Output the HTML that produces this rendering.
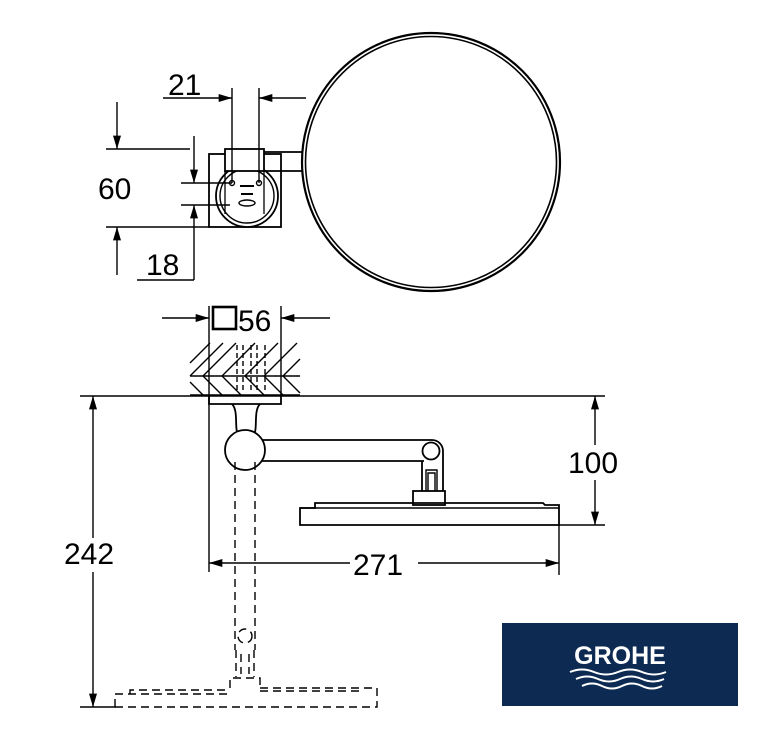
<!DOCTYPE html>
<html><head><style>body{margin:0;background:#fff}svg{display:block}text{font-family:"Liberation Sans",sans-serif;fill:#000}</style></head><body>
<svg width="782" height="749" viewBox="0 0 782 749" xmlns="http://www.w3.org/2000/svg">
<defs><marker id="a" viewBox="0 0 10 6" refX="10" refY="3" markerWidth="20" markerHeight="8" markerUnits="userSpaceOnUse" orient="auto"><path d="M0,0L10,3L0,6z" fill="#000"/></marker></defs>
<g stroke="#000" fill="none" stroke-width="1.4">
<circle cx="431" cy="162" r="129" stroke-width="2.2"/>
<circle cx="431" cy="162" r="125.5" stroke-width="1.6"/>
<rect x="209" y="154" width="72" height="73" stroke-width="1.8"/>
<circle cx="247" cy="196" r="31" stroke-width="1.8" fill="#fff"/>
<circle cx="247" cy="196" r="27" stroke-width="1.4"/>
<rect x="225" y="149" width="39" height="22" fill="#fff" stroke-width="1.8"/>
<path d="M264 152H302M264 171H302" stroke-width="1.8"/>
<path d="M225 171V214M264 171V214" stroke-width="1.3"/>
<circle cx="232" cy="183" r="2.5"/><circle cx="259" cy="183" r="2.5"/>
<ellipse cx="247" cy="203" rx="8" ry="3"/>
<path d="M240 186h14M241 194h12" stroke-width="2"/>
<path d="M232 88V183M259 88V183"/>
<path d="M163 98H232" marker-end="url(#a)"/><path d="M306 98H259" marker-end="url(#a)"/>
<path d="M106 149H190M106 227H209"/>
<path d="M117 102V149" marker-end="url(#a)"/><path d="M117 275V227" marker-end="url(#a)"/>
<path d="M181 183H232M181 205H230"/>
<path d="M194 136V183" marker-end="url(#a)"/><path d="M194 280V205" marker-end="url(#a)"/>
<path d="M137 280H194"/>
<path d="M80 396H605"/>
<path d="M209 306V572M281 306V396"/>
<path d="M162 318H209" marker-end="url(#a)"/><path d="M330 318H281" marker-end="url(#a)"/>
<rect x="213" y="307" width="23" height="22" stroke-width="2.6"/>
<path d="M190 376H300M190 395H300"/>
<path d="M190 363L210 343M190 376L223 343M203 376L236 343M222 376L255 343M245 376L278 343M264 376L297 343M283 376L300 359"/>
<path d="M190 382L203 395M203 376L222 395M222 376L241 395M264 376L283 395M283 376L300 393M245 376L264 395"/>
<path d="M237 345V392M243 345V392M251 345V392M257 345V392M265 345V392" stroke-dasharray="5 3"/>
<path d="M209 396V404H281V396" stroke-width="1.8"/>
<path d="M232 404C238 410 235 425 237 432M260 404C254 410 257 425 255 432" stroke-width="1.8"/>
<path d="M262 440H432M262 461H424" stroke-width="1.8"/>
<path d="M432 440A11 11 0 0 1 443 451V491M422 461V491" stroke-width="1.8"/>
<circle cx="245" cy="450" r="20" stroke-width="1.8" fill="#fff"/>
<circle cx="431" cy="451" r="8.5" stroke-width="1.8"/>
<path d="M426 491V470H437V491M428 491V473H435V491"/>
<rect x="413" y="491" width="32" height="14" stroke-width="1.8"/>
<path d="M300 525V508H315V503H543L545 505H559V525Z" stroke-width="1.8"/>
<path d="M300 508H559"/>
<path d="M559 525H605"/>
<path d="M595 445V396" marker-end="url(#a)"/><path d="M595 480V525" marker-end="url(#a)"/>
<path d="M559 525V575"/>
<path d="M350 563H209" marker-end="url(#a)"/><path d="M418 563H559" marker-end="url(#a)"/>
<path d="M93 538V396" marker-end="url(#a)"/><path d="M93 572V707" marker-end="url(#a)"/>
<path d="M80 707H116"/>
<g stroke-dasharray="8 5">
<path d="M235 462V650M255 462V650"/>
<circle cx="245" cy="636" r="7"/>
<path d="M236 650V677M254 650V677M241 654V674M249 654V674"/>
<path d="M230 688V678H260V688"/>
<path d="M115 707V694H230M260 688H377V707H115"/>
<path d="M130 694V690H225M260 691H360V694"/>
</g>
</g>
<text x="168" y="95" font-size="30">21</text>
<text x="98" y="199" font-size="30">60</text>
<text x="146" y="275" font-size="30">18</text>
<text x="238" y="331" font-size="30">56</text>
<text x="568" y="473" font-size="30">100</text>
<text x="353" y="575" font-size="30">271</text>
<text x="64" y="564" font-size="30">242</text>
<rect x="502" y="623" width="236" height="83" fill="#0d2b52"/>
<text x="620" y="664" font-size="25" font-weight="bold" text-anchor="middle" style="fill:#fff">GROHE</text>
<g stroke="#fff" stroke-width="2" fill="none">
<path d="M570 672q12-5 24 0t24 0t24 0t24 0"/>
<path d="M576 679q11-5 22 0t22 0t22 0t22 0"/>
<path d="M582 686q10-5 20 0t20 0t20 0t20 0"/>
</g>
</svg>
</body></html>
